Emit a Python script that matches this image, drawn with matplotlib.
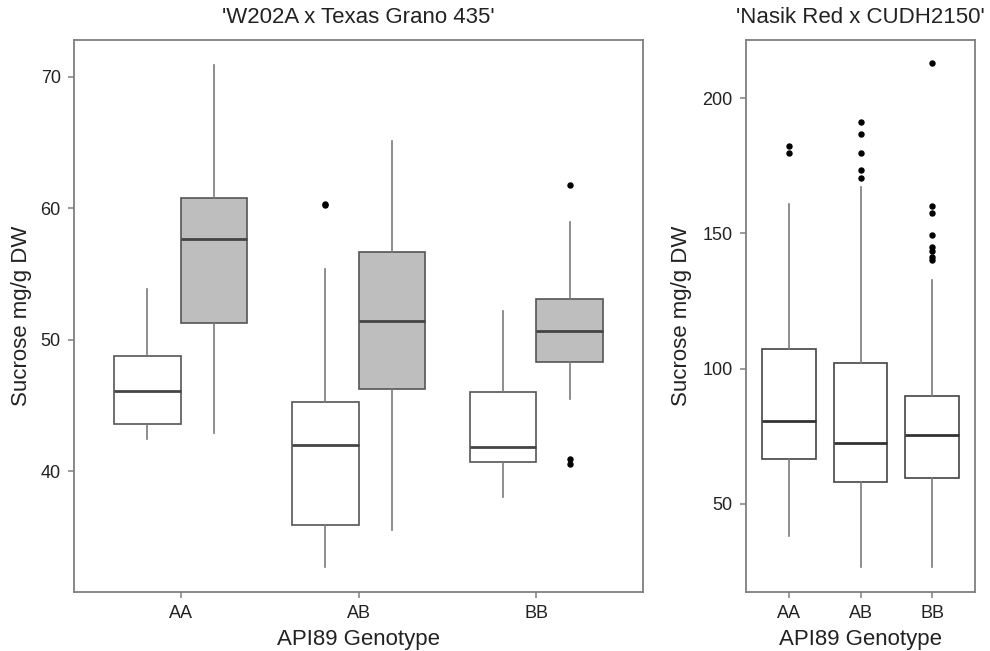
import matplotlib.pyplot as plt

plt.rcParams['font.family'] = ['Liberation Sans', 'DejaVu Sans']

genotypes = ['AA', 'AB', 'BB']

# left panel: 'W202A x Texas Grano 435', white and grey box per genotype
white_lo = [42.5, 32.75, 38.05]
white_q1 = [43.57, 35.9, 40.73]
white_med = [46.13, 42.02, 41.83]
white_q3 = [48.78, 45.31, 46.03]
white_hi = [53.83, 55.41, 52.19]
white_out = [[], [60.22, 60.35], []]

grey_lo = [42.94, 35.55, 45.47]
grey_q1 = [51.28, 46.29, 48.28]
grey_med = [57.69, 51.43, 50.64]
grey_q3 = [60.81, 56.64, 53.11]
grey_hi = [70.88, 65.1, 58.98]
grey_out = [[], [], [61.76, 40.98, 40.57]]

# right panel: 'Nasik Red x CUDH2150'
nr_lo = [38.2, 26.7, 26.7]
nr_q1 = [66.5, 58.2, 59.4]
nr_med = [80.6, 72.5, 75.6]
nr_q3 = [107.2, 102.0, 89.9]
nr_hi = [160.7, 167.3, 132.7]
nr_out = [[182.3, 179.7],
          [191.2, 186.9, 179.6, 173.4, 170.4],
          [212.9, 160.1, 157.6, 149.3, 144.9, 143.3, 141.2, 140.1]]


def make_stats(lo, q1, med, q3, hi, out):
    stats = []
    for i in range(len(lo)):
        stats.append({'whislo': lo[i], 'q1': q1[i], 'med': med[i],
                      'q3': q3[i], 'whishi': hi[i], 'fliers': out[i]})
    return stats


FRAME = '#7f7f7f'
TEXT = '#222222'


def style_axes(ax):
    for sp in ax.spines.values():
        sp.set_color(FRAME)
        sp.set_linewidth(1.3)
    ax.tick_params(axis='both', colors=FRAME, length=4.5, width=1.1,
                   labelsize=13, labelcolor=TEXT, pad=5)


def draw_boxes(ax, stats, positions, width, fill, edge, median):
    ax.bxp(stats, positions=positions, widths=width, patch_artist=True,
           showcaps=False, manage_ticks=False,
           boxprops=dict(facecolor=fill, edgecolor=edge, linewidth=1.2),
           medianprops=dict(color=median, linewidth=2.0),
           whiskerprops=dict(color='#7a7a7a', linewidth=1.2),
           flierprops=dict(marker='o', markersize=3.6, markerfacecolor='black',
                           markeredgecolor='black', linestyle='none'))


fig = plt.figure(figsize=(9.9, 6.51), dpi=100)
ax1 = fig.add_axes([74 / 990, 59 / 651, 569 / 990, 552 / 651])
ax2 = fig.add_axes([746 / 990, 59 / 651, 229 / 990, 552 / 651])

idx = [1, 2, 3]
dodge = 0.1875
draw_boxes(ax1, make_stats(white_lo, white_q1, white_med, white_q3, white_hi, white_out),
           [i - dodge for i in idx], 0.375, 'white', '#555555', '#444444')
draw_boxes(ax1, make_stats(grey_lo, grey_q1, grey_med, grey_q3, grey_hi, grey_out),
           [i + dodge for i in idx], 0.375, '#bebebe', '#555555', '#444444')
ax1.set_xlim(0.4, 3.6)
ax1.set_ylim(30.84, 72.78)
ax1.set_yticks([40, 50, 60, 70])
ax1.set_xticks(idx)
ax1.set_xticklabels(genotypes)
style_axes(ax1)
ax1.set_title("'W202A x Texas Grano 435'", fontsize=16, color=TEXT, pad=12)
ax1.set_ylabel('Sucrose mg/g DW', fontsize=16, color=TEXT, va='center')
ax1.yaxis.set_label_coords((22 - 74) / 569, 0.5)
ax1.set_xlabel('API89 Genotype', fontsize=16, color=TEXT, va='center')
ax1.xaxis.set_label_coords(0.5, -48 / 552)

draw_boxes(ax2, make_stats(nr_lo, nr_q1, nr_med, nr_q3, nr_hi, nr_out),
           idx, 0.75, 'white', '#444444', '#333333')
ax2.set_xlim(0.4, 3.6)
ax2.set_ylim(17.4, 221.5)
ax2.set_yticks([50, 100, 150, 200])
ax2.set_xticks(idx)
ax2.set_xticklabels(genotypes)
style_axes(ax2)
ax2.set_title("'Nasik Red x CUDH2150'", fontsize=16, color=TEXT, pad=12)
ax2.set_ylabel('Sucrose mg/g DW', fontsize=16, color=TEXT, va='center')
ax2.yaxis.set_label_coords((682 - 746) / 229, 0.5)
ax2.set_xlabel('API89 Genotype', fontsize=16, color=TEXT, va='center')
ax2.xaxis.set_label_coords(0.5, -48 / 552)

fig.savefig('out.png', dpi=100)
